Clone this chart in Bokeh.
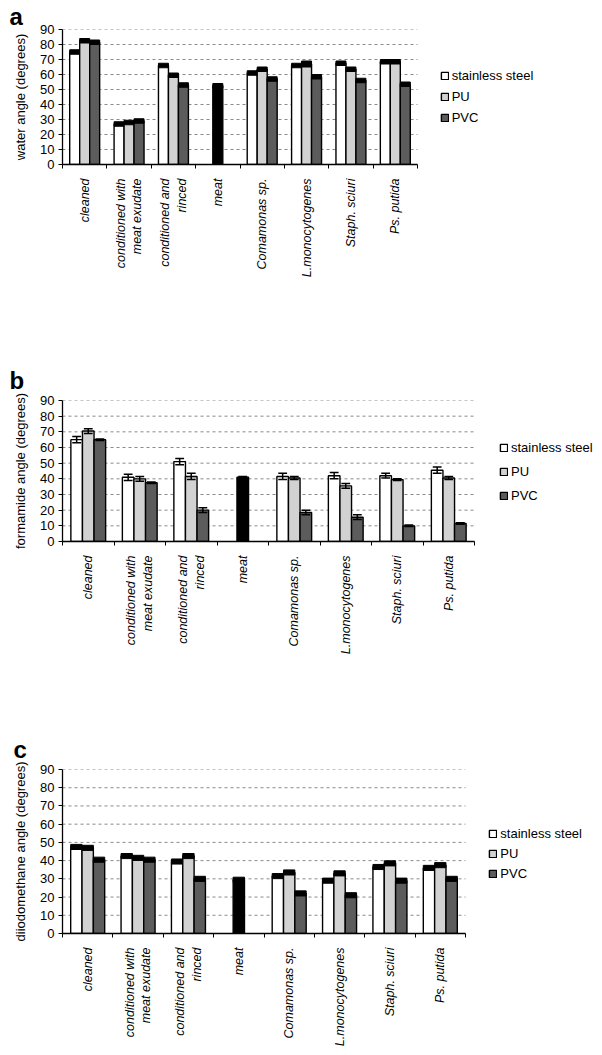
import math
from bokeh.plotting import figure
from bokeh.models import Range1d, FixedTicker, Legend, LegendItem
from bokeh.layouts import column
from bokeh.embed import file_html
from bokeh.resources import INLINE

categories = ["cleaned", "conditioned with\nmeat exudate", "conditioned and\nrinced", "meat",
              "Comamonas sp.", "L.monocytogenes", "Staph. sciuri", "Ps. putida"]
series_names = ["stainless steel", "PU", "PVC"]

# panel a: water contact angle
water_ss = [75, 27, 66, None, 61, 66, 67.5, 68.5]
water_pu = [82.5, 28, 59.5, None, 63.5, 67, 63.5, 68.5]
water_pvc = [81.5, 29, 53, None, 57, 58.5, 56, 53.5]
water_meat = 52.5
water_ss_err = [1.5, 1.5, 1.5, None, 1.5, 1.5, 1.5, 1.5]
water_pu_err = [1.5, 1.5, 1.5, None, 1.5, 2, 1.5, 1.5]
water_pvc_err = [1.5, 1.5, 1.5, None, 1.5, 1.5, 1.5, 1.5]
water_meat_err = 1.5

# panel b: formamide contact angle
form_ss = [65, 41, 51, None, 41.5, 42, 42, 45.5]
form_pu = [70.5, 40, 41.5, None, 40.5, 35.5, 39.5, 40.5]
form_pvc = [65, 37.5, 20, None, 18.5, 15.5, 10, 11.5]
form_meat = 41
form_ss_err = [2, 2, 2, None, 2, 2, 1.5, 2]
form_pu_err = [1.5, 1.5, 2, None, 1, 1.5, 0.5, 1]
form_pvc_err = [0.5, 0.5, 1.5, None, 1.5, 1.5, 0.5, 0.5]
form_meat_err = 0.5

# panel c: diiodomethane contact angle
diio_ss = [47.5, 42.5, 39.5, None, 31.5, 29, 36.5, 36]
diio_pu = [47, 41.5, 42.5, None, 33.5, 33, 38.5, 37.5]
diio_pvc = [40.5, 40.5, 30, None, 22, 21, 29, 30]
diio_meat = 29.5
diio_ss_err = [1.4, 1.4, 1.4, None, 1.4, 1.4, 1.4, 1.4]
diio_pu_err = [1.4, 1.4, 1.4, None, 1.4, 1.4, 1.4, 1.4]
diio_pvc_err = [1.4, 1.4, 1.4, None, 1.4, 1.4, 1.4, 1.4]
diio_meat_err = 1.4

y_ticks = [0, 10, 20, 30, 40, 50, 60, 70, 80, 90]

FONT = "Liberation Sans"
FILLS = ["#ffffff", "#d2d2d2", "#5c5c5c"]
BW = 0.225


def draw_err(p, xs, tops, es, style):
    lo = [t - e for t, e in zip(tops, es)]
    hi = [t + e for t, e in zip(tops, es)]
    if style == "band":
        p.quad(left=[x - BW / 2 for x in xs], right=[x + BW / 2 for x in xs],
               bottom=lo, top=hi, fill_color="black", line_color="black", line_width=1)
    else:
        cw = BW * 0.38
        p.segment(x0=xs, y0=lo, x1=xs, y1=hi, line_color="black", line_width=1.5)
        p.segment(x0=[x - cw for x in xs], y0=hi, x1=[x + cw for x in xs], y1=hi,
                  line_color="black", line_width=1.5)
        p.segment(x0=[x - cw for x in xs], y0=lo, x1=[x + cw for x in xs], y1=lo,
                  line_color="black", line_width=1.5)


def panel(letter, ylabel, vals, errs, meat, meat_err, style, data_w, total_w, frame_h,
          b_left, b_top, b_bottom, letter_offset, letter_standoff, leg_xy, leg_spacing):
    n = len(categories)
    x_end = n * total_w / data_w  # frame extends right of the data area to hold the legend
    p = figure(width=b_left + total_w, frame_width=total_w, frame_height=frame_h,
               output_backend="svg", toolbar_location=None,
               x_range=Range1d(0, x_end), y_range=Range1d(0, 90),
               min_border_left=b_left, min_border_top=b_top, min_border_bottom=b_bottom,
               min_border_right=0, title=letter)
    p.title.text_font = FONT
    p.title.text_font_size = "24px"
    p.title.text_font_style = "bold"
    p.title.text_color = "black"
    p.title.align = "left"
    p.title.offset = letter_offset
    p.title.standoff = letter_standoff
    p.title.text_line_height = 0.5
    p.outline_line_color = None
    p.background_fill_color = "white"
    p.xgrid.visible = False
    p.ygrid.visible = False
    # dashed gridlines over the category area only
    p.segment(x0=[0] * len(y_ticks), x1=[n] * len(y_ticks), y0=y_ticks, y1=y_ticks,
              line_color="#8a8a8a", line_dash="3 3", line_width=1)

    centers = [i + 0.5 for i in range(n)]
    offsets = [-BW, 0, BW]
    renderers = []
    for k, (v, e) in enumerate(zip(vals, errs)):
        xs = [c + offsets[k] for c, val in zip(centers, v) if val is not None]
        tops = [val for val in v if val is not None]
        es = [ee for ee in e if ee is not None]
        r = p.vbar(x=xs, top=tops, width=BW, bottom=0, fill_color=FILLS[k],
                   line_color="black", line_width=1.4)
        renderers.append(r)
        draw_err(p, xs, tops, es, style)
    mi = categories.index("meat")
    p.vbar(x=[centers[mi]], top=[meat], width=BW, bottom=0, fill_color="black",
           line_color="black", line_width=1.4)
    draw_err(p, [centers[mi]], [meat], [meat_err], style)

    xa = p.xaxis[0]
    xa.bounds = (0, n)
    xa.ticker = FixedTicker(ticks=centers, minor_ticks=list(range(n + 1)))
    xa.major_label_overrides = {c: lab for c, lab in zip(centers, categories)}
    xa.major_label_orientation = math.pi / 2
    xa.major_tick_out = 0
    xa.major_tick_in = 0
    xa.minor_tick_out = 4
    xa.minor_tick_in = 0
    xa.minor_tick_line_color = "black"
    xa.axis_line_color = "black"
    xa.axis_line_width = 1.3
    xa.major_label_text_font = FONT
    xa.major_label_text_font_style = "italic"
    xa.major_label_text_font_size = "12.5px"
    xa.major_label_text_color = "black"
    xa.major_label_standoff = 10

    ya = p.yaxis[0]
    ya.ticker = FixedTicker(ticks=y_ticks)
    ya.axis_label = ylabel
    ya.axis_label_text_font = FONT
    ya.axis_label_text_font_style = "normal"
    ya.axis_label_text_font_size = "13px"
    ya.axis_label_text_color = "black"
    ya.axis_label_standoff = 9
    ya.major_label_text_font = FONT
    ya.major_label_text_font_size = "13px"
    ya.major_label_text_color = "black"
    ya.major_label_standoff = 4
    ya.major_tick_out = 4
    ya.major_tick_in = 0
    ya.minor_tick_out = 0
    ya.minor_tick_in = 0
    ya.axis_line_color = "black"
    ya.axis_line_width = 1.3

    legend = Legend(items=[LegendItem(label=s, renderers=[r]) for s, r in zip(series_names, renderers)],
                    location=leg_xy, orientation="vertical")
    legend.margin = 0
    legend.padding = 0
    legend.border_line_color = None
    legend.background_fill_alpha = 0
    legend.glyph_width = 9
    legend.glyph_height = 9
    legend.label_standoff = 3
    legend.label_height = 14
    legend.spacing = leg_spacing
    legend.label_text_font = FONT
    legend.label_text_font_size = "13px"
    legend.label_text_color = "black"
    p.add_layout(legend)
    return p


pa = panel("a", "water angle (degrees)",
           [water_ss, water_pu, water_pvc], [water_ss_err, water_pu_err, water_pvc_err],
           water_meat, water_meat_err, "band",
           data_w=355, total_w=476, frame_h=135, b_left=60, b_top=22, b_bottom=190,
           letter_offset=-53, letter_standoff=0, leg_xy=(385, 39), leg_spacing=6)
pb = panel("b", "formamide angle (degrees)",
           [form_ss, form_pu, form_pvc], [form_ss_err, form_pu_err, form_pvc_err],
           form_meat, form_meat_err, "whisker",
           data_w=412, total_w=532, frame_h=141, b_left=62, b_top=46, b_bottom=178,
           letter_offset=-53, letter_standoff=13, leg_xy=(437, 38), leg_spacing=9)
pc = panel("c", "diiodomethane angle (degrees)",
           [diio_ss, diio_pu, diio_pvc], [diio_ss_err, diio_pu_err, diio_pvc_err],
           diio_meat, diio_meat_err, "band",
           data_w=403, total_w=527, frame_h=164, b_left=59, b_top=50, b_bottom=113,
           letter_offset=-49, letter_standoff=13, leg_xy=(434, 52), leg_spacing=5)

layout = column(pa, pb, pc, spacing=0)
open("out.html", "w").write(file_html(layout, INLINE))
